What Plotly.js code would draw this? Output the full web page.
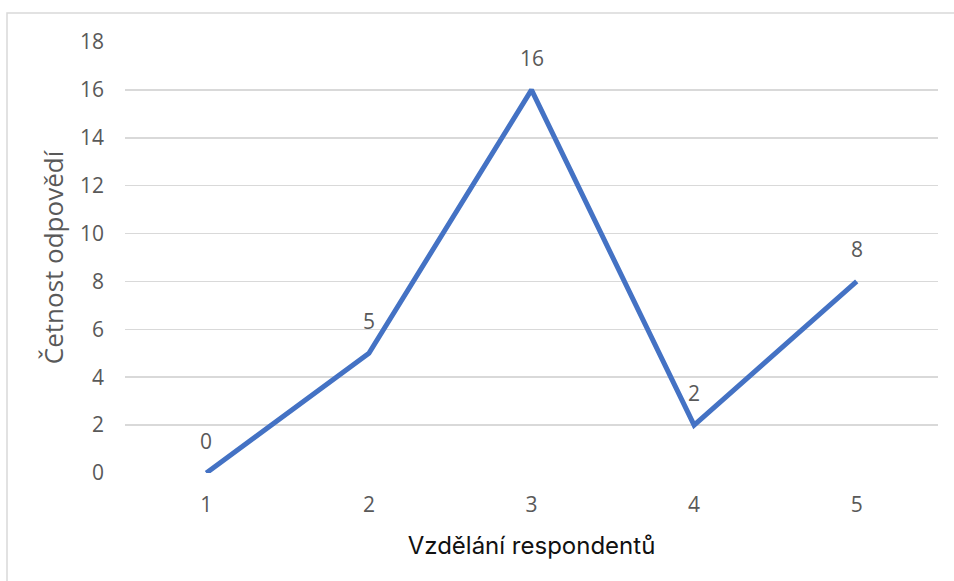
<!DOCTYPE html>
<html>
<head>
<meta charset="utf-8">
<script src="https://cdn.plot.ly/plotly-3.0.1.min.js"></script>
<style>html,body{margin:0;padding:0;background:#fff;}#chart{width:954px;height:581px;}</style>
</head>
<body>
<div id="chart"></div>
<script>
const categories = [1, 2, 3, 4, 5];
const values = [0, 5, 16, 2, 8];
const yTicks = [0, 2, 4, 6, 8, 10, 12, 14, 16, 18];
const xTitle = "Vzdělání respondentů";
const yTitle = "Četnost odpovědí";

const tickFont = {family: "Open Sans, Noto Sans, sans-serif", size: 21, color: "#595959"};

const trace = {
  x: categories,
  y: values,
  type: "scatter",
  mode: "lines",
  line: {color: "#4472C4", width: 5},
  hoverinfo: "skip",
  showlegend: false
};

const labels = categories.map((c, i) => ({
  x: c, y: values[i], xref: "x", yref: "y",
  text: String(values[i]), showarrow: false,
  yanchor: "middle", yshift: 32,
  font: tickFont
}));

const layout = {
  width: 954, height: 581,
  margin: {l: 125, r: 16, t: 42, b: 108},
  paper_bgcolor: "#fff", plot_bgcolor: "#fff",
  xaxis: {
    range: [0.5, 5.5],
    tickvals: categories,
    ticktext: categories.map(String),
    showgrid: false, zeroline: false, showline: false,
    ticks: "", tickfont: tickFont,
    ticklabelstandoff: 17,
    title: {text: xTitle, font: {family: "Inter, sans-serif", size: 24, color: "#111"}, standoff: 20},
    fixedrange: true
  },
  yaxis: {
    range: [0, 18],
    tickvals: yTicks,
    showgrid: true, gridcolor: "#d9d9d9", gridwidth: 1.5,
    zeroline: false, showline: false,
    ticks: "", tickfont: tickFont,
    ticklabelstandoff: 20,
    title: {text: yTitle, font: {family: "Open Sans, sans-serif", size: 26, color: "#595959"}, standoff: 8},
    fixedrange: true
  },
  annotations: labels,
  shapes: [{
    type: "rect", xref: "paper", yref: "paper",
    x0: (7 - 125) / 813, x1: (970 - 125) / 813,
    y0: (473 - 600) / 431, y1: (473 - 13) / 431,
    line: {color: "#d9d9d9", width: 1.5}, fillcolor: "rgba(0,0,0,0)", layer: "below"
  }]
};

Plotly.newPlot("chart", [trace], layout, {displayModeBar: false, staticPlot: true});
</script>
</body>
</html>
